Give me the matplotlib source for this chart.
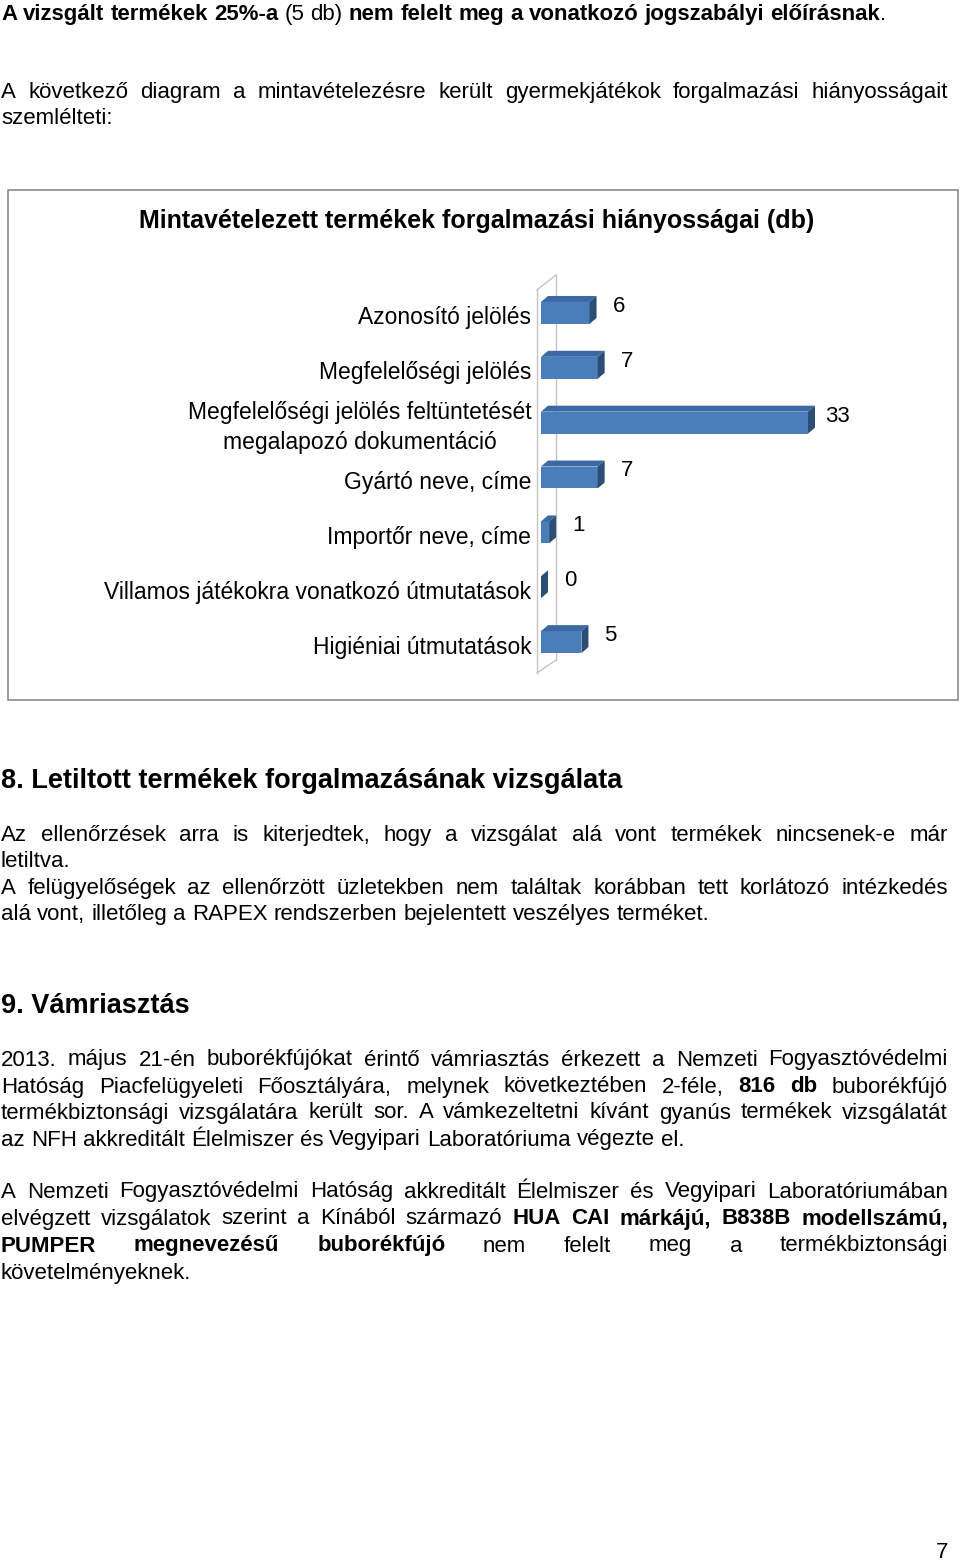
import numpy as np
import matplotlib.pyplot as plt
from matplotlib.patches import Polygon, Rectangle

plt.rcParams['font.family'] = ['Liberation Sans', 'DejaVu Sans']

# chart data
categories = [
    "Azonosító jelölés",
    "Megfelelőségi jelölés",
    "Megfelelőségi jelölés feltüntetését\nmegalapozó dokumentáció",
    "Gyártó neve, címe",
    "Importőr neve, címe",
    "Villamos játékokra vonatkozó útmutatások",
    "Higiéniai útmutatások",
]
values = [6, 7, 33, 7, 1, 0, 5]
chart_title = "Mintavételezett termékek forgalmazási hiányosságai (db)"

# page text: (y, justified, [(text, bold, glued_to_previous), ...])
BODY = [
    (12, False, [("A vizsgált termékek 25%-a", True, False), ("(5 db)", False, False),
                 ("nem felelt meg a vonatkozó jogszabályi előírásnak", True, False), (".", False, True)]),
    (90, True, [("A következő diagram a mintavételezésre került gyermekjátékok forgalmazási hiányosságait", False, False)]),
    (116, False, [("szemlélteti:", False, False)]),
    (833, True, [("Az ellenőrzések arra is kiterjedtek, hogy a vizsgálat alá vont termékek nincsenek-e már", False, False)]),
    (859, False, [("letiltva.", False, False)]),
    (886, True, [("A felügyelőségek az ellenőrzött üzletekben nem találtak korábban tett korlátozó intézkedés", False, False)]),
    (912, False, [("alá vont, illetőleg a RAPEX rendszerben bejelentett veszélyes terméket.", False, False)]),
    (1058, True, [("2013. május 21-én buborékfújókat érintő vámriasztás érkezett a Nemzeti Fogyasztóvédelmi", False, False)]),
    (1085, True, [("Hatóság Piacfelügyeleti Főosztályára, melynek következtében 2-féle,", False, False),
                  ("816 db", True, False), ("buborékfújó", False, False)]),
    (1111, True, [("termékbiztonsági vizsgálatára került sor. A vámkezeltetni kívánt gyanús termékek vizsgálatát", False, False)]),
    (1138, False, [("az NFH akkreditált Élelmiszer és Vegyipari Laboratóriuma végezte el.", False, False)]),
    (1190, True, [("A Nemzeti Fogyasztóvédelmi Hatóság akkreditált Élelmiszer és Vegyipari Laboratóriumában", False, False)]),
    (1217, True, [("elvégzett vizsgálatok szerint a Kínából származó", False, False),
                  ("HUA CAI márkájú, B838B modellszámú,", True, False)]),
    (1244, True, [("PUMPER megnevezésű buborékfújó", True, False),
                  ("nem felelt meg a termékbiztonsági", False, False)]),
    (1271, False, [("követelményeknek.", False, False)]),
]
HEADINGS = [(778, "8. Letiltott termékek forgalmazásának vizsgálata"),
            (1003, "9. Vámriasztás")]

W, H = 960, 1561
fig = plt.figure(figsize=(W / 100, H / 100), dpi=100)
page = fig.add_axes([0, 0, 1, 1])
page.set_xlim(0, W)
page.set_ylim(H, 0)
page.axis("off")
renderer = fig.canvas.get_renderer()

FS = 16.0
LEFT, RIGHT = 1, 948


def word_width(word, bold):
    t = page.text(0, 0, word, fontsize=FS, fontweight="bold" if bold else "normal")
    w = t.get_window_extent(renderer).width
    t.remove()
    return w


space = word_width("a a", False) - word_width("aa", False)
for yc, justify, runs in BODY:
    # words as (text, bold, glued)
    words = []
    for txt, b, glue in runs:
        for k, w in enumerate(txt.split(" ")):
            words.append((w, b, glue and k == 0))
    widths = [word_width(w, b) for w, b, _ in words]
    n_gaps = sum(1 for k, (_, _, g) in enumerate(words) if k > 0 and not g)
    gap = space
    if justify and n_gaps > 0:
        gap = (RIGHT - LEFT - sum(widths)) / n_gaps
    x = LEFT
    for k, ((w, b, g), ww) in enumerate(zip(words, widths)):
        if k > 0 and not g:
            x += gap
        page.text(x, yc + 7.5, w, fontsize=FS, fontweight="bold" if b else "normal",
                  ha="left", va="baseline")
        x += ww

for yc, txt in HEADINGS:
    page.text(LEFT, yc + 10, txt, fontsize=19.5, fontweight="bold", ha="left", va="baseline")

page.text(942, 1551 + 7.5, "7", fontsize=FS, ha="center", va="baseline")

# chart frame and title
page.add_patch(Rectangle((8, 190), 950, 510, fill=False, ec="#8c8c8c", lw=1.2))
page.text(477, 221, chart_title, fontsize=18, fontweight="bold", ha="center", va="center")

# back wall of the 3-D plot area
wall = dict(color="#c4c4c4", lw=1)
page.plot([537, 537], [290, 673], **wall)
page.plot([556, 556], [275, 660], **wall)
page.plot([537, 556], [290, 275], **wall)
page.plot([537, 556], [673, 660], **wall)

# bar axes: value 0 at x=541, 33 at x=808; rows 55 px apart starting at 313
px_per_unit = (808 - 541) / 33
ax = fig.add_axes([541 / W, 1 - 669.5 / H, 400 / W, 384 / H])
ax.set_xlim(0, 400 / px_per_unit)
ax.set_ylim(len(values) - 0.5, -0.5)
ax.axis("off")

front, top_c, side_c = "#4a7ebb", "#3b69a3", "#2c4d74"
bh = 0.4
dx = 7 / px_per_unit
dy = 6 / 55
ypos = np.arange(len(values))
ax.barh(ypos, values, height=bh, left=0, color=front, edgecolor="none")
for i, (y, v) in enumerate(zip(ypos, values)):
    y0, y1 = y - bh / 2, y + bh / 2
    if v > 0:
        ax.add_patch(Polygon([(0, y0), (v, y0), (v + dx, y0 - dy), (dx, y0 - dy)],
                             closed=True, fc=top_c, ec="none"))
    ax.add_patch(Polygon([(v, y0), (v + dx, y0 - dy), (v + dx, y1 - dy), (v, y1)],
                         closed=True, fc=side_c, ec="none"))
    ax.text(v + 3.6, y - 0.12, str(v), fontsize=16, ha="center", va="center")
    ax.text(-1.2, y + 0.09, categories[i], fontsize=16.5,
            ha="right", va="center", multialignment="center", linespacing=1.4)

fig.savefig("out.png", dpi=100)
